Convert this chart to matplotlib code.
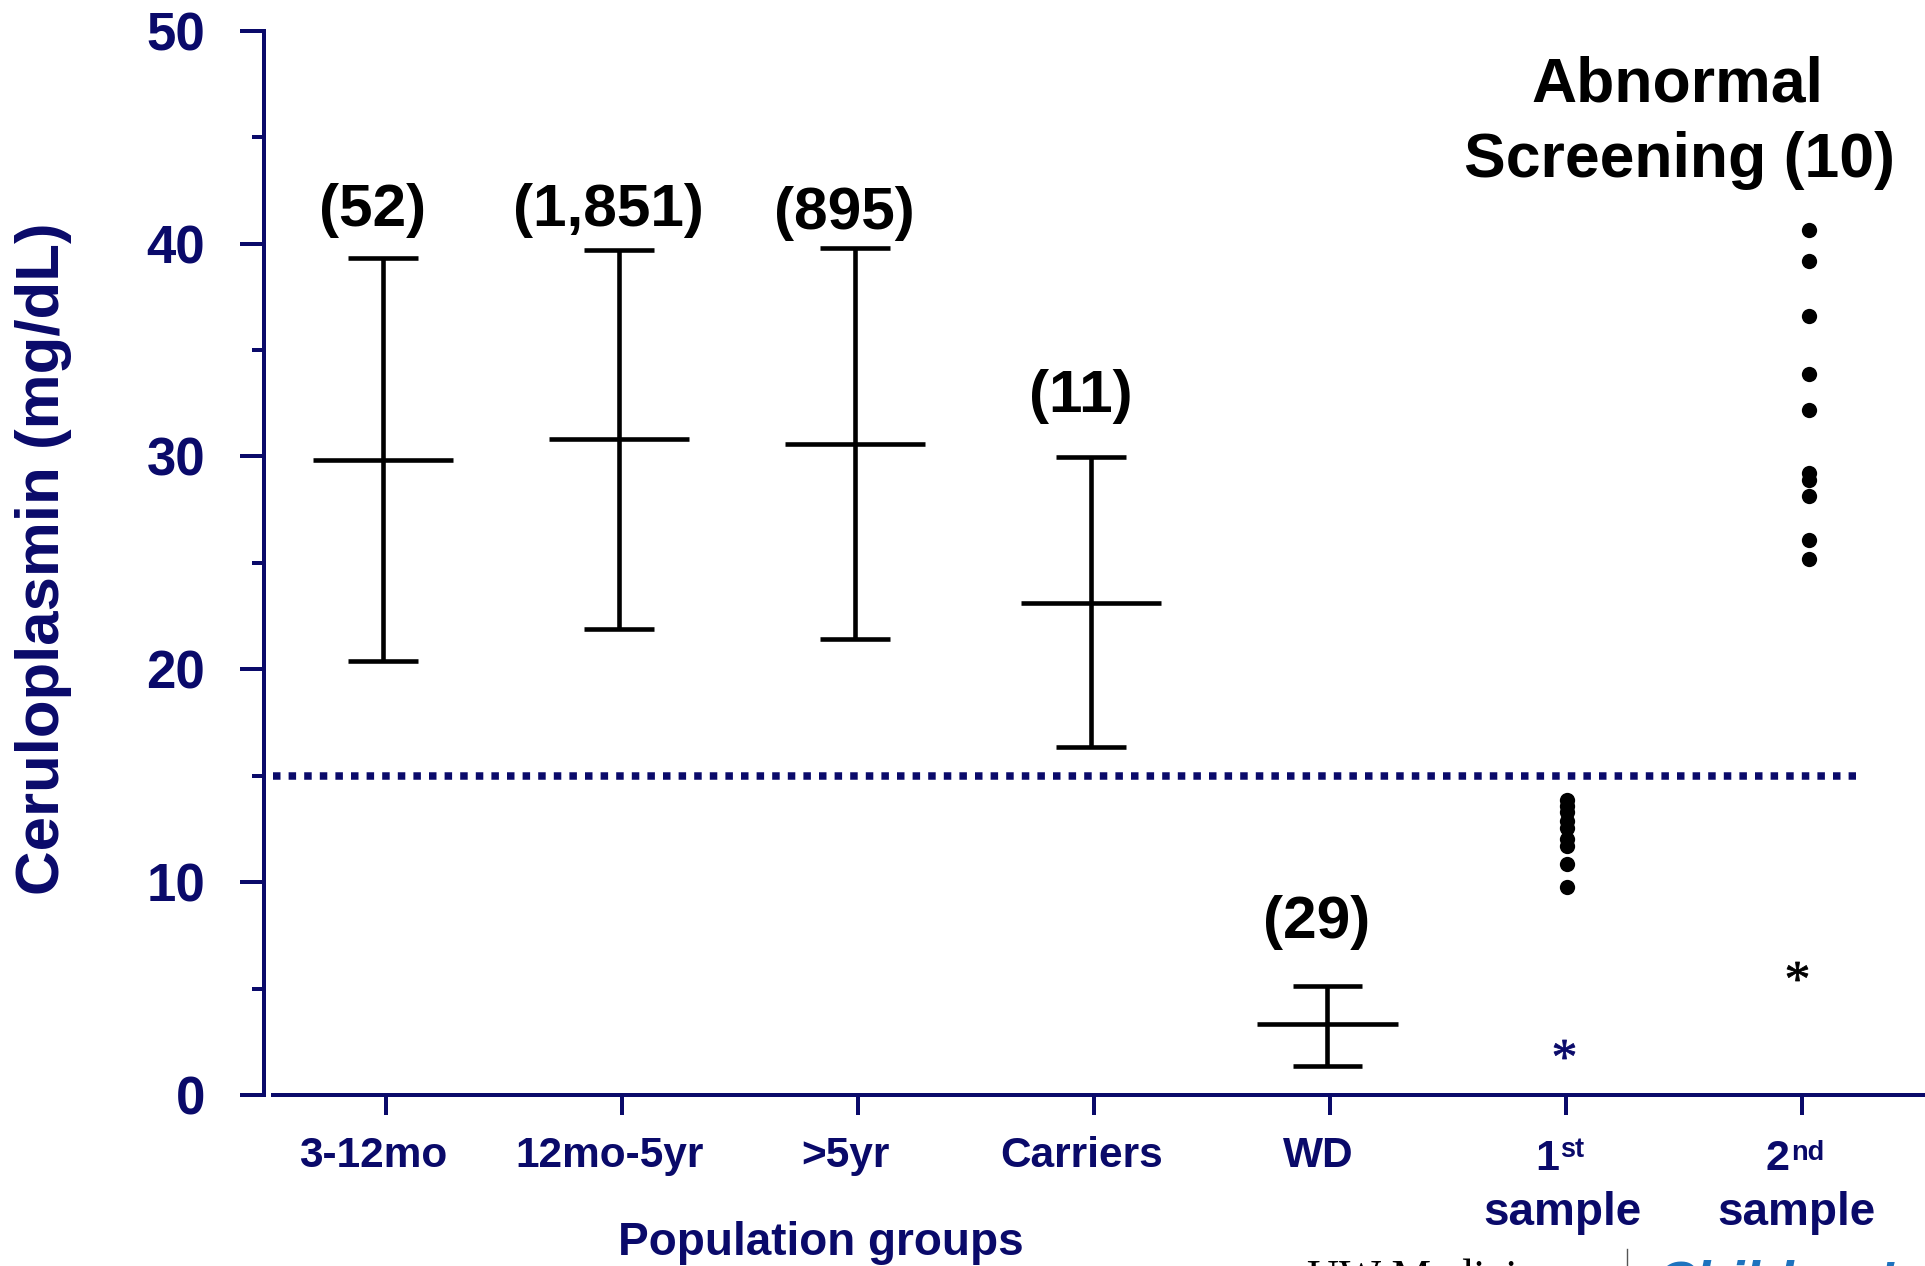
import numpy as np
import matplotlib
matplotlib.use('Agg')
import matplotlib.pyplot as plt
from matplotlib.textpath import TextPath
from matplotlib.font_manager import FontProperties
from matplotlib.path import Path
from matplotlib.lines import Line2D

# ---------------- data ----------------
categories = ['3-12mo', '12mo-5yr', '>5yr', 'Carriers', 'WD', '1st sample', '2nd sample']
group_counts = ['(52)', '(1,851)', '(895)', '(11)', '(29)']
group_mean = [29.85, 30.82, 30.59, 23.1, 3.33]
group_upper = [39.34, 39.68, 39.8, 29.95, 5.1]
group_lower = [20.37, 21.87, 21.4, 16.34, 1.34]
count_label_y = [40.84, 40.84, 40.7, 32.07, 7.38]
cutoff = 15
first_sample = [13.86, 13.58, 13.3, 12.88, 12.56, 12.02, 11.70, 10.87, 9.78]
second_sample = [40.66, 39.17, 36.58, 33.85, 32.16, 29.21, 28.87, 28.16, 26.09, 25.16]
first_sample_wd = [2.16]
second_sample_wd = [5.83]
yticks_major = [0, 10, 20, 30, 40, 50]
yticks_minor = [5, 15, 25, 35, 45]
title_lines = ['Abnormal', 'Screening (10)']

# ---------------- style ----------------
NAVY = '#0a0a6a'
W, H = 1925, 1266
PT = 0.72  # points per pixel at dpi 100
plt.rcParams['font.family'] = ['Liberation Sans', 'DejaVu Sans']
plt.rcParams['font.weight'] = 'bold'

fig = plt.figure(figsize=(W / 100, H / 100), dpi=100)
fig.patch.set_facecolor('white')

ax_left_px, ax_right_px = 263.7, 1925
y0_px, y50_px = 1095, 30.7
ax = fig.add_axes([ax_left_px / W, 1 - y0_px / H,
                   (ax_right_px - ax_left_px) / W, (y0_px - y50_px) / H])
tick0_px, tick_sp = 385.5, 236.08
ax.set_xlim((ax_left_px - tick0_px) / tick_sp, (ax_right_px - tick0_px) / tick_sp)
ax.set_ylim(0, 50)
ax.patch.set_alpha(0)

def px2x(px):
    return (px - tick0_px) / tick_sp

for s in ['top', 'right']:
    ax.spines[s].set_visible(False)
for s in ['left', 'bottom']:
    ax.spines[s].set_color(NAVY)
    ax.spines[s].set_linewidth(4 * PT)
ax.spines['left'].set_bounds(0, 50)
ax.spines['bottom'].set_bounds(px2x(273), px2x(ax_right_px))

xs = np.arange(len(categories))
ax.set_xticks(xs)
ax.set_xticklabels([])
ax.tick_params(axis='x', length=20 * PT, width=4 * PT, color=NAVY, direction='out')
ax.set_yticks(yticks_major)
ax.set_yticks(yticks_minor, minor=True)
ax.set_yticklabels([str(v) for v in yticks_major])
ax.tick_params(axis='y', which='major', length=24 * PT, width=4 * PT, color=NAVY,
               direction='out', pad=34.7 * PT, labelsize=38, labelcolor=NAVY)
ax.tick_params(axis='y', which='minor', length=12 * PT, width=4 * PT, color=NAVY,
               direction='out')
for t in ax.get_yticklabels():
    t.set_fontweight('bold')

# ---------------- error bars ----------------
lw = 3.3
gx = xs[:5] - 0.01
for i in range(5):
    ax.vlines(gx[i], group_lower[i], group_upper[i], color='black', lw=lw)
    ax.hlines([group_lower[i], group_upper[i]], gx[i] - 0.148, gx[i] + 0.148,
              color='black', lw=lw)
    ax.hlines(group_mean[i], gx[i] - 0.297, gx[i] + 0.297, color='black', lw=lw)
    ax.annotate(group_counts[i], xy=(xs[i], count_label_y[i]), xytext=(-13 * PT, 0),
                textcoords='offset points', ha='center', va='baseline',
                fontsize=43.5, fontweight='bold', color='black')

# cutoff dotted line
ax.hlines(cutoff, px2x(273), px2x(1856), color=NAVY, lw=7.5 * PT,
          linestyles=(0, (1.0, 1.08)))

# dots
ax.plot(np.full(len(first_sample), xs[5] + 0.005), first_sample, 'o', color='black',
        markersize=11, markeredgewidth=0)
ax.plot(np.full(len(second_sample), xs[6] + 0.03), second_sample, 'o', color='black',
        markersize=11, markeredgewidth=0)

# asterisk markers (glyph outline, centred on the point)
fp = FontProperties(family='Liberation Serif', weight='normal')
tp = TextPath((0, 0), '*', size=1, prop=fp)
v = tp.vertices.copy()
codes = tp.codes
real = codes != Path.CLOSEPOLY
c = (v[real].min(0) + v[real].max(0)) / 2
v = v - c
v[~real] = 0.0
ast = Path(v, codes)
ax.plot([xs[5] - 0.01], first_sample_wd, linestyle='none', marker=ast,
        markersize=15, color=NAVY, markeredgewidth=0.6, markeredgecolor=NAVY)
ax.plot([xs[6] - 0.02], second_sample_wd, linestyle='none', marker=ast,
        markersize=15, color='black', markeredgewidth=0.6, markeredgecolor='black')

# ---------------- x labels ----------------
def xlab(x, text, dx_px, dy_px, size, ha='center'):
    ax.annotate(text, xy=(x, 0), xycoords=('data', 'axes fraction'),
                xytext=(dx_px * PT, -dy_px * PT), textcoords='offset points',
                ha=ha, va='baseline', fontsize=size, fontweight='bold', color=NAVY,
                annotation_clip=False)

for i in range(5):
    xlab(xs[i], categories[i], -12, 72, 30.5)
# 1st sample
xlab(xs[5], '1', -19, 75, 31)
xlab(xs[5], 'st', -6, 62, 19.5, ha='left')
xlab(xs[5], 'sample', -3, 130, 33)
# 2nd sample
xlab(xs[6], '2', -24, 75, 31)
xlab(xs[6], 'nd', -11, 65, 19.5, ha='left')
xlab(xs[6], 'sample', -6, 130, 33)

def fx(px):
    return px / W

def fy(py):
    return 1 - py / H

fig.text(fx(821), fy(1255), 'Population groups', ha='center', va='baseline',
         fontsize=33, fontweight='bold', color=NAVY)
fig.text(fx(44), fy(559), 'Ceruloplasmin (mg/dL)', ha='center', va='center',
         rotation=90, fontsize=44.5, fontweight='bold', color=NAVY)

# title
fig.text(fx(1677), fy(101.7), title_lines[0], ha='center', va='baseline',
         fontsize=45, fontweight='bold', color='black')
fig.text(fx(1679), fy(176.7), title_lines[1], ha='center', va='baseline',
         fontsize=45, fontweight='bold', color='black')

# logo fragments (cropped at bottom, as in the reference)
fig.text(fx(1307), fy(1290), 'UW Medicine', ha='left', va='baseline',
         fontsize=32, fontweight='normal', family='Liberation Serif', color='black')
fig.add_artist(Line2D([fx(1627), fx(1627)], [fy(1249), 0], color='#555555', lw=1))
fig.text(fx(1655), fy(1299), "Children's", ha='left', va='baseline',
         fontsize=40, fontweight='bold', style='italic', color='#1e73be')

fig.savefig('out.png', dpi=100)
